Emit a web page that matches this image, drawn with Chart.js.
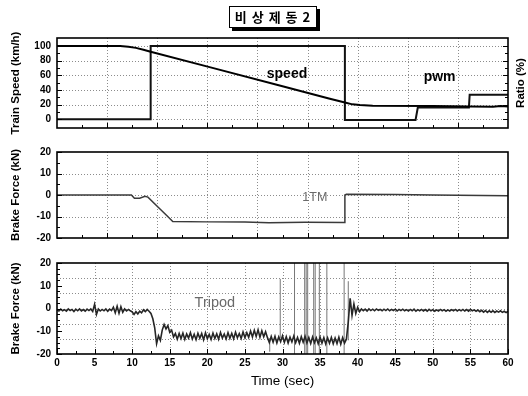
<!DOCTYPE html>
<html><head><meta charset="utf-8">
<script src="https://cdn.jsdelivr.net/npm/chart.js@4.4.1/dist/chart.umd.min.js"></script>
<style>
html,body{margin:0;padding:0;background:#fff;}
#wrap{position:relative;width:528px;height:396px;overflow:hidden;background:#fff;}
#wrap canvas{position:absolute;left:0;}
#title{position:absolute;top:6px;left:229px;width:86px;height:20px;border:1px solid #000;box-shadow:3px 3px 0 #000;
  font:bold 13px "Noto Sans CJK KR";line-height:20px;text-align:center;background:#fff;color:#000;white-space:pre;letter-spacing:1px;}
#ratio{position:absolute;left:491px;top:76px;width:60px;height:14px;line-height:14px;text-align:center;
  transform:rotate(-90deg);font:bold 11.5px "Liberation Sans";color:#000;white-space:nowrap;}
</style></head><body>
<div id="wrap">
<canvas id="c1" width="528" height="140" style="top:0px"></canvas>
<canvas id="c2" width="528" height="110" style="top:140px"></canvas>
<canvas id="c3" width="528" height="146" style="top:250px"></canvas>
<div id="title">비 상 제 동 2</div>
<div id="ratio">Ratio (%)</div>
</div>
<script>
// ---------------- data ----------------
const speedTime = [0, 8.4, 9.5, 10.5, 11.5, 12.46, 20.3, 30, 36.3, 38.3, 39.3, 40.3, 42, 50, 55, 58, 59, 60];
const speedKmh  = [100, 100, 99, 97.5, 95, 92.3, 71.2, 45, 28, 22.8, 20.3, 19.3, 18.5, 18, 17.5, 17, 18, 17.5];

const pwmTime  = [0, 12.46, 12.46, 38.3, 38.3, 47.7, 48.0, 54.8, 54.9, 60];
const pwmRatio = [0, 0, 100, 100, -1, -1, 16, 16, 33.5, 33.5];

const tmTime  = [0, 9.9, 10.3, 11.0, 11.7, 12.1, 13.5, 14.8, 15.4, 20, 25, 28.2, 33, 38.2, 38.3, 38.5, 45, 50, 60];
const tmForce = [0, 0, -1.5, -1.5, -0.6, -1.0, -5.8, -10.2, -12.3, -12.5, -12.6, -12.9, -12.7, -12.8, 0, 0.3, 0.2, 0, -0.3];

const tripodStep = 0.25; // seconds between samples, starting at 0 s
const tripodForce = [
  // 0 - 9.75 s
  -0.6,-1.1,-0.3,-1.0,-0.5,-1.2,-0.2,-0.9,-0.4,-1.3,
  -0.3,-1.0,-0.2,-1.1,-0.5,-1.2,-0.3,-0.9,-0.2,-1.3,
  1.8,-2.6,-0.2,-1.1,-0.4,-1.0,-0.2,-1.2,-0.3,-0.9,
  0.6,-1.9,1.0,-2.1,0.8,-1.7,-0.2,-1.1,-0.4,-1.0,
  // 10 - 12.25 s
  -1.5,-2.6,-1.4,-2.4,-1.2,-1.9,-0.6,-1.4,-0.4,-1.2,
  // 12.5 - 15.75 s
  -2.2,-4.5,-8.5,-15.5,-12.0,-14.0,-9.5,-7.0,-9.0,-7.5,-10.5,-9.5,-12.5,-11.0,
  // 16 - 27.75 s
  -13.5,-11.0,-13.2,-10.8,-13.6,-11.2,-13.0,-10.6,-13.4,-11.3,-13.7,-10.9,
  -13.1,-11.0,-13.8,-10.7,-13.3,-11.4,-13.6,-10.8,-13.2,-11.1,-13.5,-10.5,
  -13.0,-11.2,-13.4,-10.6,-13.1,-10.9,-13.3,-10.4,-12.9,-11.0,-13.2,-10.3,
  -12.8,-10.6,-12.7,-9.9,-12.5,-9.6,-12.3,-9.4,-12.6,-9.8,-12.4,-10.2,
  // 28 - 38.5 s
  -12.8,-15.0,-12.3,-14.8,-12.2,-15.1,-12.5,-14.6,-12.0,-14.9,-12.4,-15.2,
  -12.6,-14.7,-12.1,-15.0,-12.7,-15.3,-12.4,-14.8,-12.2,-15.1,-12.8,-15.4,
  -12.5,-15.0,-12.9,-15.5,-12.6,-15.2,-12.8,-15.6,-12.9,-15.3,-12.7,-15.5,
  -13.0,-15.4,-12.6,-15.7,-12.8,-15.2,-13.5,
  // 38.75 - 41.25 s
  -6.0,4.5,-3.0,2.0,-2.2,0.5,-1.4,-0.2,-1.0,-0.3,-1.1,
  // 41.5 - 60 s
  -0.2,-0.9,-0.3,-1.0,-0.2,-0.8,-0.4,-1.0,-0.3,-0.9,
  -0.2,-1.0,-0.4,-0.9,-0.3,-1.1,-0.4,-0.9,-0.3,-1.0,
  -0.5,-1.1,-0.4,-1.0,-0.3,-1.2,-0.5,-1.0,-0.4,-1.1,
  -0.5,-1.2,-0.4,-1.0,-0.5,-1.2,-0.6,-1.1,-0.4,-1.0,
  -0.5,-1.2,-0.6,-1.1,-0.5,-1.0,-0.4,-1.1,-0.5,-1.0,
  -0.4,-1.1,-0.5,-1.2,-0.4,-1.0,-0.6,-1.2,-0.7,-1.4,
  -0.8,-1.6,-0.9,-1.7,-1.0,-1.6,-1.0,-1.7,-1.1,-1.6,
  -1.0,-1.7,-1.2,-1.8,-1.2
];

const spikeTime = [28.3, 29.7, 31.6, 32.95, 33.15, 33.35, 34.15, 34.35, 34.9, 35.9, 38.2, 38.75];
const spikeLow  = [-19, -13, -25, -25, -25, -25, -25, -25, -25, -25, -25, -14];
const spikeHigh = [-13, 13, 25, 25, 25, 25, 25, 25, 25, 25, 25, 12];

const speedTicks = [0, 20, 40, 60, 80, 100];
const forceTicks = [-20, -10, 0, 10, 20];
const timeTicks  = [0, 5, 10, 15, 20, 25, 30, 35, 40, 45, 50, 55, 60];
const ninthGrid  = [6.667, 13.333, 20, 26.667, 33.333, 40, 46.667, 53.333];
const ninthMinor = [3.333, 10, 16.667, 23.333, 30, 36.667, 43.333, 50, 56.667];
const thirdForceGrid = [13.333, 6.667, 0, -6.667, -13.333];

// ---------------- helpers ----------------
const FONT = 'Liberation Sans';
Chart.defaults.font.family = FONT;
Chart.defaults.color = '#000';

const pts = (xs, ys) => xs.map((x, i) => ({x: x, y: ys[i]}));
const setTicks = vals => (s => { s.ticks = vals.map(v => ({value: v})); });
const range = (a, b, st) => { const r = []; for (let v = a; v <= b + 1e-9; v += st) r.push(+v.toFixed(3)); return r; };

// panel decoration (dotted grid, inward ticks, frame, in-plot labels), spec kept in closure
function makeDeco(o) {
  return {
    id: 'deco',
    beforeDatasetsDraw(chart) {
      const {ctx, chartArea: a, scales} = chart;
      const xs = scales.x, ys = scales.y;
      ctx.save();
      ctx.strokeStyle = '#8c8c8c'; ctx.lineWidth = 1; ctx.setLineDash([1, 2]);
      ctx.beginPath();
      (o.gridX || []).forEach(v => { const p = Math.round(xs.getPixelForValue(v)) + 0.5; ctx.moveTo(p, a.top); ctx.lineTo(p, a.bottom); });
      (o.gridY || []).forEach(v => { const p = Math.round(ys.getPixelForValue(v)) + 0.5; ctx.moveTo(a.left, p); ctx.lineTo(a.right, p); });
      ctx.stroke();
      ctx.restore();
    },
    afterDatasetsDraw(chart) {
      const {ctx, chartArea: a, scales} = chart;
      const xs = scales.x, ys = scales.y;
      ctx.save();
      ctx.strokeStyle = '#000'; ctx.lineWidth = 1;
      ctx.beginPath();
      const tx = (list, len) => (list || []).forEach(v => { const p = Math.round(xs.getPixelForValue(v)) + 0.5; ctx.moveTo(p, a.bottom); ctx.lineTo(p, a.bottom - len); });
      const tyL = (list, len) => (list || []).forEach(v => { const p = Math.round(ys.getPixelForValue(v)) + 0.5; ctx.moveTo(a.left, p); ctx.lineTo(a.left + len, p); });
      const tyR = (list, len) => (list || []).forEach(v => { const p = Math.round(ys.getPixelForValue(v)) + 0.5; ctx.moveTo(a.right, p); ctx.lineTo(a.right - len, p); });
      tx(o.majorX, 5); tx(o.minorX, 3);
      tyL(o.majorY, 5); tyL(o.minorY, 3);
      tyR(o.rightMajor, 5); tyR(o.rightMinor, 3);
      ctx.stroke();
      ctx.lineWidth = 1.6;
      ctx.strokeRect(a.left, a.top, a.right - a.left, a.bottom - a.top);
      (o.notes || []).forEach(n => {
        ctx.font = n.font; ctx.fillStyle = n.color; ctx.textAlign = 'center'; ctx.textBaseline = 'middle';
        ctx.fillText(n.text, xs.getPixelForValue(n.x), ys.getPixelForValue(n.y));
      });
      ctx.restore();
    }
  };
}

const tickFont = {family: FONT, size: 10, weight: 'bold'};
const yTitleFont = {family: FONT, size: 11.5, weight: 'bold'};

function hiddenX(h) {
  return {type: 'linear', min: 0, max: 60, ticks: {display: false}, grid: {display: false, drawTicks: false},
          border: {display: false}, afterFit: s => { s.height = h; }};
}
function leftY(min, max, vals, title) {
  return {type: 'linear', position: 'left', min: min, max: max, afterBuildTicks: setTicks(vals),
          ticks: {font: tickFont, color: '#000', padding: 6},
          grid: {display: false, drawTicks: false}, border: {display: false},
          title: {display: true, text: title, font: yTitleFont, color: '#000', padding: {top: 9, bottom: 0}},
          afterFit: s => { s.width = 57; }};
}
const common = {responsive: false, animation: false, devicePixelRatio: 1,
  plugins: {legend: {display: false}, tooltip: {enabled: false}},
  elements: {point: {radius: 0}, line: {tension: 0}}};

// ---------------- top: speed & pwm ----------------
new Chart(document.getElementById('c1'), {
  type: 'line',
  data: {datasets: [
    {label: 'speed', data: pts(speedTime, speedKmh), borderColor: '#000', borderWidth: 2, yAxisID: 'y'},
    {label: 'pwm', data: pts(pwmTime, pwmRatio), borderColor: '#111', borderWidth: 2, yAxisID: 'y2'}
  ]},
  options: Object.assign({}, common, {
    layout: {padding: {top: 38, right: 0, bottom: 0, left: 0}},
    scales: {
      x: hiddenX(8),
      y: leftY(-12, 111, speedTicks, 'Train Speed (km/h)'),
      y2: {type: 'linear', position: 'right', min: -12, max: 111, ticks: {display: false},
           grid: {display: false, drawTicks: false}, border: {display: false}, afterFit: s => { s.width = 20; }}
    }
  }),
  plugins: [makeDeco({
    gridX: ninthGrid, gridY: speedTicks,
    majorX: ninthGrid, minorX: ninthMinor,
    majorY: speedTicks, minorY: [10, 30, 50, 70, 90],
    rightMajor: speedTicks, rightMinor: [10, 30, 50, 70, 90],
    notes: [
      {text: 'speed', x: 30.6, y: 61, font: 'bold 14px ' + FONT, color: '#000'},
      {text: 'pwm', x: 50.9, y: 57, font: 'bold 14px ' + FONT, color: '#000'}
    ]
  })]
});

// ---------------- middle: 1TM ----------------
new Chart(document.getElementById('c2'), {
  type: 'line',
  data: {datasets: [
    {label: '1TM', data: pts(tmTime, tmForce), borderColor: '#3a3a3a', borderWidth: 1.5}
  ]},
  options: Object.assign({}, common, {
    layout: {padding: {top: 11, right: 20, bottom: 0, left: 0}},
    scales: {
      x: hiddenX(9),
      y: leftY(-20, 20, forceTicks, 'Brake Force (kN)')
    }
  }),
  plugins: [makeDeco({
    gridX: ninthGrid, gridY: [10, 0, -10],
    majorX: ninthGrid, minorX: ninthMinor,
    majorY: forceTicks, minorY: [15, 5, -5, -15],
    notes: [{text: '1TM', x: 34.3, y: -1, font: '12.5px ' + FONT, color: '#6a6a6a'}]
  })]
});

// ---------------- bottom: Tripod ----------------
const spikeData = [];
spikeTime.forEach((t, i) => { spikeData.push({x: t, y: spikeLow[i]}, {x: t, y: spikeHigh[i]}, {x: t, y: null}); });

new Chart(document.getElementById('c3'), {
  type: 'line',
  data: {datasets: [
    {label: 'Tripod', data: tripodForce.map((v, i) => ({x: i * tripodStep, y: v})), borderColor: '#262626', borderWidth: 1.6},
    {label: 'Tripod spikes', data: spikeData, borderColor: '#777', borderWidth: 1, spanGaps: false}
  ]},
  options: Object.assign({}, common, {
    layout: {padding: {top: 13, right: 20, bottom: 0, left: 0}},
    scales: {
      x: {type: 'linear', min: 0, max: 60, afterBuildTicks: setTicks(timeTicks),
          ticks: {font: tickFont, color: '#000', padding: 3, maxRotation: 0},
          grid: {display: false, drawTicks: false}, border: {display: false},
          title: {display: true, text: 'Time (sec)', font: {family: FONT, size: 13.5}, color: '#000', padding: {top: 0, bottom: 7}},
          afterFit: s => { s.height = 42; }},
      y: leftY(-20, 20, forceTicks, 'Brake Force (kN)')
    }
  }),
  plugins: [makeDeco({
    gridX: [5, 10, 15, 20, 25, 30, 35, 40, 45, 50, 55], gridY: thirdForceGrid,
    majorX: timeTicks, minorX: range(2.5, 57.5, 5),
    majorY: forceTicks, minorY: [17.5, 15, 12.5, 7.5, 5, 2.5, -2.5, -5, -7.5, -12.5, -15, -17.5],
    notes: [{text: 'Tripod', x: 21, y: 2.5, font: '14.5px ' + FONT, color: '#6a6a6a'}]
  })]
});
</script>
</body></html>
